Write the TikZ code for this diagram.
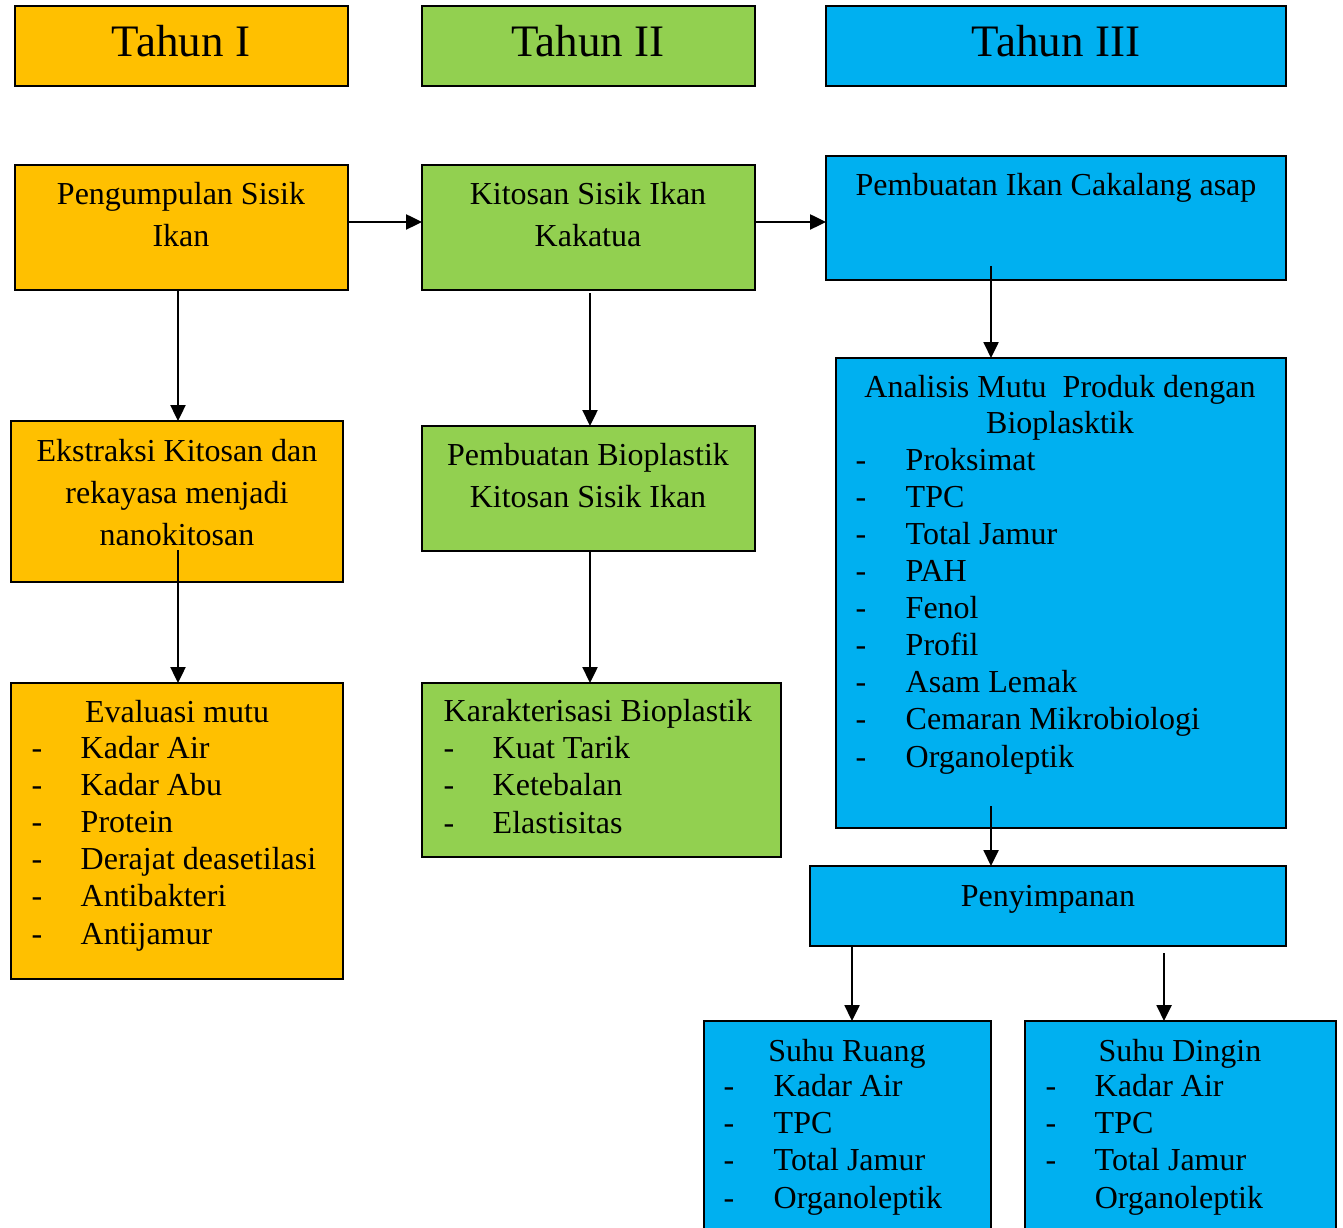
\documentclass[tikz,border=0pt]{standalone}
\usepackage{fontspec}
\setmainfont{Liberation Serif}
\usetikzlibrary{arrows.meta,calc}
\definecolor{orn}{HTML}{FFC000}
\definecolor{grn}{HTML}{92D050}
\definecolor{blu}{HTML}{00B0F0}
\newcommand\ttlfont{\fontsize{12.8pt}{14pt}\selectfont}
\newcommand\parfont{\fontsize{9.1pt}{11.95pt}\selectfont}
\newcommand\lstfont{\fontsize{9.1pt}{10.53pt}\selectfont}
\newcommand\itm[2]{\makebox[#1][l]{-}#2}
\begin{document}
\begin{tikzpicture}[x=0.01cm,y=-0.01cm,
  box/.style={draw=black, line width=0.6pt, inner sep=0pt, outer sep=0pt, anchor=north west},
  ttl/.style={inner sep=0pt, anchor=base, font=\ttlfont},
  ptxt/.style={inner sep=0pt, anchor=base, align=center, font=\parfont},
  ltxt/.style={inner sep=0pt, anchor=base west, align=left, font=\lstfont},
  ctxt/.style={inner sep=0pt, anchor=base, align=center, font=\lstfont},
  arr/.style={draw=black, line width=0.75pt, -{Triangle[width=4.2pt,length=4.5pt]}}]
\useasboundingbox (0,0) rectangle (1343,1228);
% boxes
\node[box, fill=orn, minimum width=3.33cm, minimum height=0.80cm] (t1) at (15,6) {};
\node[box, fill=grn, minimum width=3.33cm, minimum height=0.80cm] (t2) at (422,6) {};
\node[box, fill=blu, minimum width=4.60cm, minimum height=0.80cm] (t3) at (826,6) {};
\node[box, fill=orn, minimum width=3.33cm, minimum height=1.25cm] (p1) at (15,165) {};
\node[box, fill=grn, minimum width=3.33cm, minimum height=1.25cm] (p2) at (422,165) {};
\node[box, fill=blu, minimum width=4.60cm, minimum height=1.24cm] (p3) at (826,156) {};
\node[box, fill=orn, minimum width=3.32cm, minimum height=1.61cm] (e1) at (11,421) {};
\node[box, fill=grn, minimum width=3.33cm, minimum height=1.25cm] (e2) at (422,426) {};
\node[box, fill=blu, minimum width=4.50cm, minimum height=4.70cm] (a3) at (836,358) {};
\node[box, fill=orn, minimum width=3.32cm, minimum height=2.96cm] (v1) at (11,683) {};
\node[box, fill=grn, minimum width=3.59cm, minimum height=1.74cm] (k2) at (422,683) {};
\node[box, fill=blu, minimum width=4.76cm, minimum height=0.80cm] (s3) at (810,866) {};
\node[box, fill=blu, minimum width=2.87cm, minimum height=2.40cm] (r3) at (704,1021) {};
\node[box, fill=blu, minimum width=3.11cm, minimum height=2.40cm] (d3) at (1025,1021) {};
% connectors
\draw[arr] ($(p1.north east)+(0,57)$) -- ($(p2.north west)+(0,57)$);
\draw[arr] ($(p2.north east)+(0,57)$) -- ($(p3.north west)+(0,66)$);
\draw[arr] ($(p1.south west)+(163,0)$) -- ($(e1.north west)+(167,0)$);
\draw[arr] ($(e1.north west)+(167,129)$) -- ($(v1.north west)+(167,0)$);
\draw[arr] ($(p2.south west)+(168,3)$) -- ($(e2.north west)+(168,0)$);
\draw[arr] ($(e2.south west)+(168,0)$) -- ($(k2.north west)+(168,0)$);
\draw[arr] ($(p3.north west)+(165,110)$) -- ($(a3.north west)+(155,0)$);
\draw[arr] ($(a3.north west)+(155,448)$) -- ($(s3.north west)+(181,0)$);
\draw[arr] ($(s3.south west)+(42,0)$) -- ($(r3.north west)+(148,0)$);
\draw[arr] ($(s3.south west)+(354,7)$) -- ($(d3.north west)+(139,0)$);
% texts (base anchor = baseline of the last line)
\node[ttl] (t1x) at (181,57) {Tahun I};
\node[ttl] (t2x) at (588,57) {Tahun II};
\node[ttl] (t3x) at (1056,57) {Tahun III};
\node[ptxt] (p1x) at (181,247) {Pengumpulan Sisik\\Ikan};
\node[ptxt] (p2x) at (588,247) {Kitosan Sisik Ikan\\Kakatua};
\node[ptxt] (p3x) at (1056,196) {Pembuatan Ikan Cakalang asap};
\node[ptxt] (e1x) at (177,546) {Ekstraksi Kitosan dan\\rekayasa menjadi\\nanokitosan};
\node[ptxt] (e2x) at (588,508) {Pembuatan Bioplastik\\Kitosan Sisik Ikan};
\node[ctxt] (v1t) at (177,722) {Evaluasi mutu};
\node[ltxt] (v1x) at (31,944) {\itm{0.49cm}{Kadar Air}\\\itm{0.49cm}{Kadar Abu}\\\itm{0.49cm}{Protein}\\\itm{0.49cm}{Derajat deasetilasi}\\\itm{0.49cm}{Antibakteri}\\\itm{0.49cm}{Antijamur}};
\node[ltxt] (k2x) at (443,833) {Karakterisasi Bioplastik\\\itm{0.49cm}{Kuat Tarik}\\\itm{0.49cm}{Ketebalan}\\\itm{0.49cm}{Elastisitas}};
\node[ctxt, font=\fontsize{9.1pt}{10.3pt}\selectfont] (a3t) at (1060,434) {Analisis Mutu\ \ Produk dengan\\Bioplasktik};
\node[ltxt] (a3x) at (855,767) {\itm{0.50cm}{Proksimat}\\\itm{0.50cm}{TPC}\\\itm{0.50cm}{Total Jamur}\\\itm{0.50cm}{PAH}\\\itm{0.50cm}{Fenol}\\\itm{0.50cm}{Profil}\\\itm{0.50cm}{Asam Lemak}\\\itm{0.50cm}{Cemaran Mikrobiologi}\\\itm{0.50cm}{Organoleptik}};
\node[ctxt] (s3x) at (1048,906) {Penyimpanan};
\node[ctxt] (r3t) at (847,1061) {Suhu Ruang};
\node[ltxt] (r3x) at (723,1208) {\itm{0.50cm}{Kadar Air}\\\itm{0.50cm}{TPC}\\\itm{0.50cm}{Total Jamur}\\\itm{0.50cm}{Organoleptik}};
\node[ctxt] (d3t) at (1180,1061) {Suhu Dingin};
\node[ltxt] (d3x) at (1045,1208) {\itm{0.49cm}{Kadar Air}\\\itm{0.49cm}{TPC}\\\itm{0.49cm}{Total Jamur}\\\makebox[0.49cm][l]{}Organoleptik};
\end{tikzpicture}
\end{document}
